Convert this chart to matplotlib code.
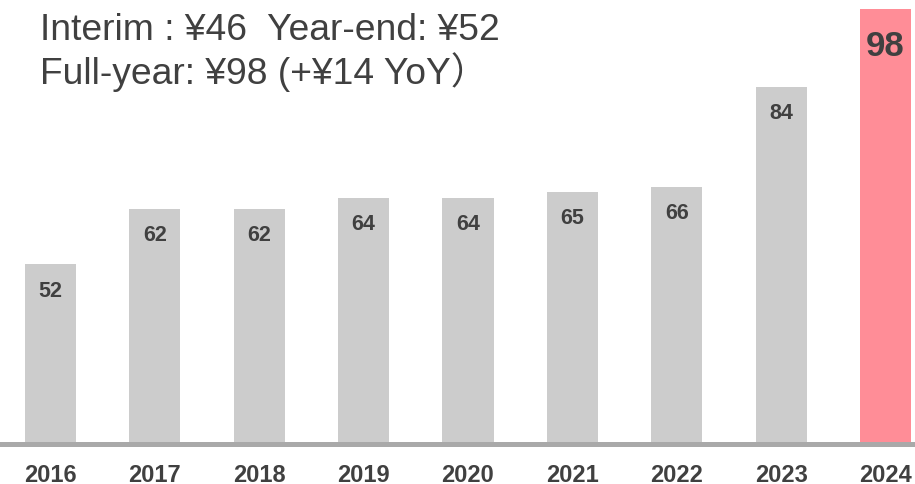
import matplotlib
matplotlib.use('Agg')
import matplotlib.pyplot as plt

plt.rcParams['font.family'] = ['Liberation Sans', 'Noto Sans CJK JP', 'DejaVu Sans']

years = ['2016', '2017', '2018', '2019', '2020', '2021', '2022', '2023', '2024']
dividends = [52, 62, 62, 64, 64, 65, 66, 84, 98]

grey = '#cccccc'
pink = '#ff8d97'
dark = '#404040'

fig = plt.figure(figsize=(9.15, 4.85), dpi=100)
ax = fig.add_axes([0, 42 / 485, 1, 443 / 485])

x = list(range(len(years)))
colours = [grey] * (len(years) - 1) + [pink]
ax.bar(x, dividends, width=0.49, color=colours, bottom=0)

ax.set_xlim(-0.484, 8.283)
ax.set_ylim(20, 99.8)

# thick grey base line under the bars
ax.axhline(19.55, color='#a9a9a9', lw=3.6, clip_on=False, xmin=0, xmax=1)

for xi, v in zip(x, dividends):
    if v == dividends[-1]:
        ax.annotate(str(v), (xi, v), xytext=(0, -26), textcoords='offset points',
                    ha='center', va='center', fontsize=25, fontweight='bold', color=dark)
    else:
        ax.annotate(str(v), (xi, v), xytext=(0, -18.5), textcoords='offset points',
                    ha='center', va='center', fontsize=15.5, fontweight='bold', color=dark)

ax.set_xticks(x)
ax.set_xticklabels(years, fontsize=17, fontweight='bold', color=dark)
ax.tick_params(axis='x', length=0, pad=15)
ax.set_yticks([])
for s in ax.spines.values():
    s.set_visible(False)

fig.text(40 / 915, 1 - 40 / 485, 'Interim : ¥46  Year-end: ¥52', fontsize=26.8,
         color=dark, ha='left', va='baseline')
fig.text(40 / 915, 1 - 84 / 485, 'Full-year: ¥98 (+¥14 YoY）', fontsize=26.8,
         color=dark, ha='left', va='baseline')

fig.savefig('out.png', dpi=100)
